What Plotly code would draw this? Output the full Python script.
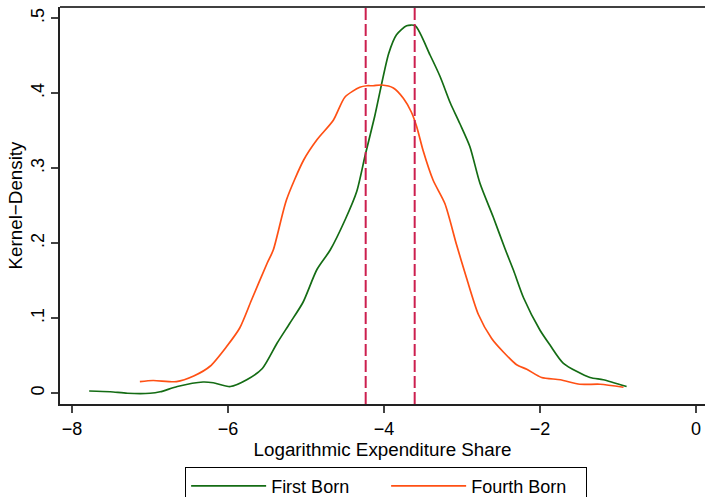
import plotly.graph_objects as go

# ---- data ----
first_x = [-7.78, -7.51, -7.29, -7.0, -6.87, -6.65, -6.32, -6.19, -5.97, -5.76, -5.56,
           -5.37, -5.21, -5.04, -4.86, -4.69, -4.50, -4.35, -4.24, -4.12, -3.94, -3.84,
           -3.71, -3.60, -3.41, -3.28, -3.15, -3.03, -2.90, -2.77, -2.60, -2.45, -2.34,
           -2.21, -2.0, -1.87, -1.70, -1.36, -1.19, -0.89]
first_y = [0.003, 0.002, 0.000, 0.000, 0.002, 0.009, 0.015, 0.014, 0.009, 0.018, 0.033,
           0.067, 0.093, 0.121, 0.165, 0.191, 0.231, 0.269, 0.318, 0.369, 0.453, 0.478,
           0.490, 0.490, 0.451, 0.422, 0.387, 0.360, 0.329, 0.280, 0.235, 0.193, 0.164,
           0.127, 0.084, 0.064, 0.040, 0.021, 0.018, 0.009]

fourth_x = [-7.13, -6.96, -6.66, -6.44, -6.23, -6.02, -5.85, -5.70, -5.50, -5.42, -5.25,
            -5.03, -4.86, -4.65, -4.50, -4.31, -4.22, -4.14, -4.03, -3.88, -3.75, -3.65,
            -3.58, -3.50, -3.37, -3.22, -3.07, -2.94, -2.79, -2.62, -2.47, -2.30, -2.17,
            -1.98, -1.74, -1.49, -1.23, -0.93]
fourth_y = [0.0155, 0.017, 0.0155, 0.023, 0.036, 0.062, 0.087, 0.124, 0.173, 0.191, 0.258,
            0.311, 0.338, 0.364, 0.395, 0.408, 0.410, 0.410, 0.411, 0.407, 0.393, 0.375,
            0.355, 0.324, 0.284, 0.253, 0.198, 0.153, 0.105, 0.073, 0.055, 0.038, 0.032,
            0.021, 0.018, 0.012, 0.012, 0.008]

mean_lines = [-4.235, -3.607]

x_ticks = [-8, -6, -4, -2, 0]
x_ticklabels = ["\u22128", "\u22126", "\u22124", "\u22122", "0"]
y_ticks = [0, 0.1, 0.2, 0.3, 0.4, 0.5]
y_ticklabels = ["0", ".1", ".2", ".3", ".4", ".5"]

GREEN = "#146c14"
ORANGE = "#ff5014"
CRIMSON = "#cc1f4f"
FONT = "Liberation Sans, Arial, sans-serif"

fig = go.Figure()
fig.add_trace(go.Scatter(x=first_x, y=first_y, mode="lines", name="First Born",
                         line=dict(color=GREEN, width=1.7, shape="spline", smoothing=0.7)))
fig.add_trace(go.Scatter(x=fourth_x, y=fourth_y, mode="lines", name="Fourth Born",
                         line=dict(color=ORANGE, width=1.7, shape="spline", smoothing=0.7)))

for m in mean_lines:
    fig.add_shape(type="line", xref="x", yref="paper", x0=m, x1=m, y0=0, y1=1,
                  line=dict(color=CRIMSON, width=2, dash="12px,4px"), layer="above")

# top frame line
fig.add_shape(type="line", xref="paper", yref="paper", x0=0, x1=1, y0=1, y1=1,
              line=dict(color="black", width=1.4))

fig.update_layout(
    width=705, height=497,
    margin=dict(l=60, r=0, t=7, b=93, autoexpand=False),
    paper_bgcolor="white", plot_bgcolor="white",
    font=dict(family=FONT, size=18, color="black"),
    showlegend=True,
    legend=dict(orientation="h", x=0.194, xanchor="left", y=-0.158, yanchor="top",
                bordercolor="black", borderwidth=1, font=dict(size=18),
                entrywidth=110, itemwidth=75, traceorder="normal"),
    xaxis=dict(range=[-8.154, 0.115], tickvals=x_ticks, ticktext=x_ticklabels,
               showline=True, linecolor="#222", linewidth=2, ticks="outside",
               ticklen=7, tickcolor="#444", tickwidth=1.5, showgrid=False, zeroline=False,
               title=dict(text="Logarithmic Expenditure Share", font=dict(size=18.8), standoff=2),
               tickfont=dict(size=18)),
    yaxis=dict(range=[-0.0143, 0.515], tickvals=y_ticks, ticktext=y_ticklabels,
               tickangle=-90,
               showline=True, linecolor="#222", linewidth=2, ticks="outside",
               ticklen=7, tickcolor="#444", tickwidth=1.5, showgrid=False, zeroline=False,
               title=dict(text="Kernel\u2212Density", font=dict(size=18.8), standoff=0),
               tickfont=dict(size=18)),
)

fig.write_html("out.html", config={"displayModeBar": False},
               post_script="document.body.style.margin='0';")
